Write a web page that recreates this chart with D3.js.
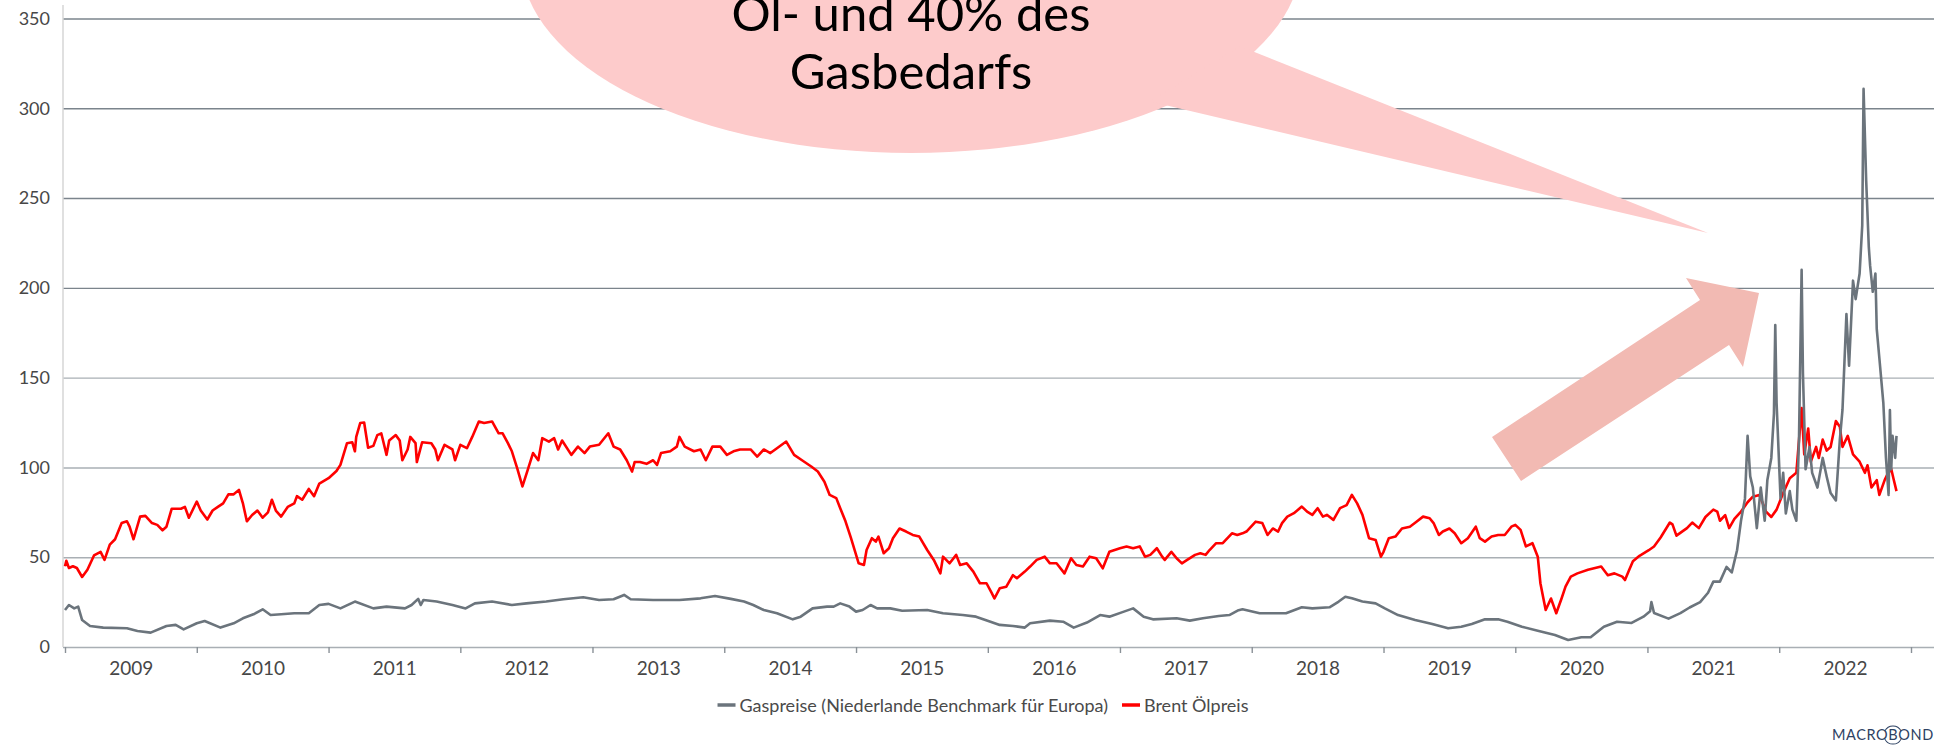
<!DOCTYPE html>
<html lang="de">
<head>
<meta charset="UTF-8">
<title>Gaspreise und Brent Ölpreis</title>
<script src="https://cdn.jsdelivr.net/npm/d3@7"></script>
<style>
  body { margin: 0; background: #fff; }
  svg { display: block; font-family: Lato, "Open Sans", sans-serif; }
  .axis text { fill: #474747; font-size: 18px; font-family: Lato, "Open Sans", sans-serif; }
  .legend text { fill: #4a4a4a; font-size: 18px; }
</style>
</head>
<body>
<svg id="chart" width="1950" height="748"></svg>
<script>
// ---- data ----
const yearLabels = [2009, 2010, 2011, 2012, 2013, 2014, 2015, 2016, 2017, 2018, 2019, 2020, 2021, 2022];
const yTicks = [0, 50, 100, 150, 200, 250, 300, 350];
const legendLabels = ["Gaspreise (Niederlande Benchmark für Europa)", "Brent Ölpreis"];
const bubbleLines = ["Öl- und 40% des", "Gasbedarfs"];

// [decimal year, value]
const gasPreise = [
  [2009.00, 20.6], [2009.03, 23.4], [2009.07, 21.5], [2009.10, 22.5], [2009.13, 15], [2009.19, 11.7],
  [2009.29, 10.8], [2009.47, 10.4], [2009.55, 8.9], [2009.65, 8.0], [2009.77, 11.7], [2009.84, 12.3],
  [2009.90, 9.8], [2010.00, 13.2], [2010.06, 14.5], [2010.18, 10.8], [2010.28, 13.2], [2010.35, 16],
  [2010.43, 18.2], [2010.50, 21], [2010.56, 17.8], [2010.64, 18.2], [2010.74, 18.8], [2010.85, 18.8],
  [2010.93, 23.4], [2011.00, 24], [2011.09, 21.5], [2011.20, 25.3], [2011.34, 21.5], [2011.44, 22.5],
  [2011.58, 21.5], [2011.63, 23.4], [2011.68, 26.8], [2011.70, 23.4], [2011.72, 26.2], [2011.82, 25.3],
  [2011.94, 23.4], [2012.04, 21.5], [2012.11, 24.3], [2012.24, 25.3], [2012.39, 23.4], [2012.50, 24.3],
  [2012.65, 25.3], [2012.78, 26.6], [2012.93, 27.7], [2013.05, 26.2], [2013.16, 26.6], [2013.24, 29],
  [2013.29, 26.6], [2013.46, 26.2], [2013.66, 26.2], [2013.82, 27.1], [2013.93, 28.4], [2014.05, 26.8],
  [2014.15, 25.3], [2014.22, 23.4], [2014.30, 20.6], [2014.40, 18.8], [2014.52, 15.4], [2014.58, 16.9],
  [2014.67, 21.5], [2014.78, 22.5], [2014.83, 22.5], [2014.88, 24.3], [2014.95, 22.5], [2015.00, 19.7],
  [2015.05, 20.6], [2015.11, 23.4], [2015.16, 21.5], [2015.26, 21.5], [2015.35, 20.2], [2015.54, 20.6],
  [2015.66, 18.8], [2015.81, 17.8], [2015.91, 16.9], [2016.02, 14.1], [2016.09, 12.3], [2016.19, 11.7],
  [2016.28, 10.8], [2016.32, 13.2], [2016.47, 14.7], [2016.57, 14.1], [2016.65, 10.8], [2016.75, 13.6],
  [2016.85, 17.8], [2016.92, 16.9], [2017.03, 19.7], [2017.10, 21.5], [2017.18, 16.9], [2017.25, 15.4],
  [2017.43, 16], [2017.53, 14.7], [2017.63, 16], [2017.75, 17.3], [2017.83, 17.8], [2017.90, 20.5],
  [2017.93, 21], [2018.06, 18.8], [2018.16, 18.8], [2018.26, 18.8], [2018.38, 22.1], [2018.46, 21.5],
  [2018.59, 22.1], [2018.66, 25.3], [2018.71, 28], [2018.76, 27.1], [2018.84, 25.3], [2018.94, 24.3],
  [2019.01, 21.5], [2019.11, 17.8], [2019.24, 15], [2019.37, 12.8], [2019.49, 10.4], [2019.59, 11.3],
  [2019.67, 12.8], [2019.77, 15.4], [2019.87, 15.4], [2019.94, 14.1], [2020.05, 11.3], [2020.17, 9.1],
  [2020.30, 6.7], [2020.40, 3.9], [2020.50, 5.4], [2020.57, 5.4], [2020.67, 11.3], [2020.77, 14.1],
  [2020.88, 13.4], [2020.97, 16.9], [2021.02, 19.9], [2021.03, 25], [2021.05, 18.9], [2021.16, 15.8],
  [2021.25, 18.9], [2021.32, 22], [2021.40, 25], [2021.46, 30.2], [2021.50, 36.4], [2021.55, 36.4],
  [2021.60, 44.6], [2021.64, 41.5], [2021.68, 53.9], [2021.71, 70.3], [2021.74, 82.6], [2021.76, 117.6],
  [2021.78, 95], [2021.80, 88.8], [2021.83, 66.2], [2021.86, 88.8], [2021.89, 70.3], [2021.91, 93],
  [2021.94, 105.3], [2021.96, 130], [2021.97, 179.3], [2021.98, 136], [2022.01, 82.6], [2022.03, 97],
  [2022.05, 74.4], [2022.08, 86.8], [2022.10, 76.5], [2022.13, 70.3], [2022.15, 115.5], [2022.17, 210],
  [2022.18, 152.5], [2022.20, 99], [2022.23, 111.4], [2022.25, 97], [2022.29, 88.8], [2022.33, 105.3],
  [2022.36, 95], [2022.39, 85.7], [2022.43, 81.6], [2022.46, 115.5], [2022.48, 132], [2022.51, 185.4],
  [2022.53, 156.7], [2022.56, 204], [2022.58, 193.7], [2022.61, 208], [2022.63, 234.8], [2022.64, 310.8],
  [2022.66, 259.5], [2022.68, 222.5], [2022.69, 212.2], [2022.71, 197.8], [2022.73, 208], [2022.74, 177.2],
  [2022.76, 160.8], [2022.79, 136], [2022.81, 105.3], [2022.83, 84.7], [2022.84, 132], [2022.85, 99],
  [2022.86, 117.6], [2022.88, 105.3], [2022.89, 117.6]
];

const brentOel = [
  [2009.00, 45], [2009.01, 48], [2009.03, 44], [2009.06, 45], [2009.09, 44], [2009.13, 39], [2009.17, 43],
  [2009.22, 51], [2009.27, 53], [2009.30, 48.5], [2009.34, 57], [2009.38, 60], [2009.43, 69], [2009.47, 70],
  [2009.49, 67], [2009.52, 60], [2009.57, 72.6], [2009.61, 73], [2009.66, 69], [2009.70, 68], [2009.74, 65],
  [2009.77, 67], [2009.81, 77], [2009.88, 77], [2009.91, 78], [2009.94, 72], [2010.00, 81], [2010.03, 76],
  [2010.08, 71], [2010.12, 76], [2010.16, 78], [2010.20, 80], [2010.24, 85], [2010.28, 85], [2010.32, 87.5],
  [2010.35, 80], [2010.38, 70], [2010.42, 73.5], [2010.46, 76], [2010.50, 72], [2010.54, 75], [2010.57, 82],
  [2010.60, 76], [2010.64, 72.6], [2010.69, 78], [2010.74, 80], [2010.76, 84], [2010.80, 82], [2010.85, 88],
  [2010.89, 84], [2010.93, 91], [2011.00, 94], [2011.06, 98], [2011.09, 101.4], [2011.14, 113.5],
  [2011.18, 114], [2011.20, 109], [2011.21, 117], [2011.24, 124.7], [2011.27, 125], [2011.30, 111],
  [2011.34, 112], [2011.37, 118], [2011.40, 119], [2011.44, 107], [2011.46, 115], [2011.51, 118],
  [2011.54, 115], [2011.56, 104], [2011.60, 110], [2011.62, 117], [2011.66, 113.5], [2011.67, 103],
  [2011.71, 114], [2011.78, 113.5], [2011.81, 110], [2011.83, 104], [2011.88, 112.6], [2011.94, 110],
  [2011.96, 104], [2012.00, 112.6], [2012.05, 110.7], [2012.09, 117], [2012.14, 125.6], [2012.18, 124.7],
  [2012.24, 125.6], [2012.29, 119], [2012.32, 119], [2012.36, 113.5], [2012.39, 109], [2012.43, 99.6],
  [2012.47, 89.4], [2012.51, 98.6], [2012.55, 108], [2012.59, 104], [2012.62, 116.3], [2012.67, 114.4],
  [2012.71, 116.3], [2012.74, 110], [2012.77, 115], [2012.84, 107], [2012.89, 111.6], [2012.94, 108],
  [2012.98, 111.6], [2013.05, 112.6], [2013.12, 119], [2013.16, 111.6], [2013.21, 110], [2013.26, 104],
  [2013.30, 97.7], [2013.32, 103], [2013.36, 103], [2013.41, 102], [2013.46, 104], [2013.49, 101.4],
  [2013.52, 108], [2013.59, 109], [2013.64, 111.6], [2013.66, 117], [2013.70, 111.6], [2013.77, 109],
  [2013.82, 110], [2013.86, 104], [2013.91, 111.6], [2013.97, 111.6], [2014.02, 107], [2014.07, 109],
  [2014.12, 110], [2014.20, 110], [2014.25, 106], [2014.30, 110], [2014.35, 108], [2014.40, 110.7],
  [2014.47, 114.4], [2014.53, 107], [2014.59, 104], [2014.66, 100.5], [2014.71, 97.7], [2014.76, 92],
  [2014.80, 84.7], [2014.85, 82.9], [2014.88, 77.3], [2014.92, 70], [2014.96, 61], [2015.02, 46.6],
  [2015.06, 45.7], [2015.08, 54], [2015.12, 60.6], [2015.15, 58.7], [2015.17, 61.5], [2015.21, 52.2],
  [2015.25, 55], [2015.28, 60.6], [2015.33, 66], [2015.38, 64.3], [2015.43, 62.4], [2015.48, 61.5],
  [2015.54, 54], [2015.59, 48.5], [2015.64, 41], [2015.66, 50.3], [2015.71, 46.6], [2015.76, 51.3],
  [2015.79, 45.7], [2015.84, 46.6], [2015.89, 42], [2015.94, 35.5], [2015.99, 35.5], [2016.03, 30],
  [2016.05, 27], [2016.09, 32.7], [2016.14, 33.6], [2016.19, 40], [2016.22, 38.3], [2016.28, 42],
  [2016.32, 44.8], [2016.37, 48.5], [2016.43, 50.3], [2016.47, 46.6], [2016.52, 46.6], [2016.58, 41],
  [2016.63, 49.4], [2016.67, 45.7], [2016.72, 44.8], [2016.77, 50.3], [2016.82, 49.4], [2016.87, 43.8],
  [2016.92, 53], [2017.00, 55], [2017.05, 56], [2017.10, 55], [2017.15, 56], [2017.19, 50.3],
  [2017.23, 51.3], [2017.28, 55], [2017.32, 50.3], [2017.34, 48.5], [2017.39, 53], [2017.43, 49.4],
  [2017.47, 46.6], [2017.51, 48.5], [2017.57, 51.3], [2017.61, 52.2], [2017.65, 51.3], [2017.68, 54],
  [2017.73, 57.8], [2017.78, 57.8], [2017.85, 63.3], [2017.89, 62.4], [2017.93, 63.3], [2017.96, 64.3],
  [2018.03, 69.8], [2018.08, 69], [2018.12, 62.4], [2018.16, 66], [2018.20, 64.3], [2018.23, 69],
  [2018.27, 72.6], [2018.32, 74.5], [2018.38, 78.2], [2018.42, 75.4], [2018.46, 73.6], [2018.50, 77.3],
  [2018.54, 72.6], [2018.57, 73.6], [2018.62, 70.8], [2018.67, 77.3], [2018.72, 79], [2018.76, 84.7],
  [2018.80, 80], [2018.84, 73.6], [2018.89, 60.6], [2018.94, 59.6], [2018.98, 50.3], [2019.00, 53],
  [2019.04, 60.6], [2019.09, 61.5], [2019.14, 66], [2019.20, 67], [2019.25, 69.8], [2019.30, 72.6],
  [2019.35, 71.7], [2019.38, 69], [2019.42, 62.4], [2019.45, 64.3], [2019.50, 66], [2019.54, 63.3],
  [2019.59, 57.8], [2019.64, 60.6], [2019.70, 67], [2019.73, 60.6], [2019.77, 58.7], [2019.82, 61.5],
  [2019.87, 62.4], [2019.92, 62.4], [2019.97, 67], [2020.00, 68], [2020.04, 65.2], [2020.08, 56],
  [2020.13, 57.8], [2020.17, 50.3], [2020.19, 35.5], [2020.21, 28], [2020.23, 20.6], [2020.27, 27],
  [2020.31, 18.8], [2020.35, 27], [2020.38, 33.6], [2020.42, 39.2], [2020.47, 41], [2020.55, 43],
  [2020.65, 44.8], [2020.70, 40], [2020.75, 41], [2020.81, 39.2], [2020.83, 37.3], [2020.86, 42.6],
  [2020.89, 47.7], [2020.94, 50.8], [2021.01, 53.9], [2021.05, 56], [2021.10, 61], [2021.17, 69.3],
  [2021.19, 68.3], [2021.22, 62], [2021.26, 64.1], [2021.30, 66.2], [2021.34, 69.3], [2021.39, 66.2],
  [2021.44, 72.4], [2021.50, 76.5], [2021.53, 75.4], [2021.55, 70.3], [2021.59, 73.4], [2021.62, 66.2],
  [2021.66, 71.3], [2021.71, 75.4], [2021.76, 80.6], [2021.80, 83.7], [2021.85, 84.7], [2021.90, 75.4],
  [2021.94, 72.4], [2021.98, 76.5], [2022.03, 85.7], [2022.08, 94], [2022.13, 97], [2022.17, 133],
  [2022.19, 107.3], [2022.22, 121.7], [2022.24, 103.2], [2022.28, 111.4], [2022.30, 105.3], [2022.33, 115.5],
  [2022.36, 109.4], [2022.39, 111.4], [2022.43, 125.8], [2022.46, 122.7], [2022.48, 111.4], [2022.52, 117.6],
  [2022.56, 107.3], [2022.61, 103.2], [2022.65, 97], [2022.67, 101.2], [2022.70, 88.8], [2022.74, 92.9],
  [2022.76, 84.7], [2022.80, 92.9], [2022.82, 96], [2022.85, 99.1], [2022.87, 92.9], [2022.89, 86.8]
];

// ---- layout ----
const svg = d3.select("#chart");
const plotLeft = 63, plotRight = 1934;

// decimal year -> Date
function toDate(t) {
    const yr = Math.floor(t);
    const a = new Date(yr, 0, 1), b = new Date(yr + 1, 0, 1);
    return new Date(+a + (t - yr) * (b - a));
}

const x = d3.scaleTime()
    .domain([new Date(2009, 0, 1), new Date(2023, 0, 1)])
    .range([65, 1911]);

const y = d3.scaleLinear()
    .domain([0, 350])
    .range([647, 18.5]);

// gridlines + y labels
const yAxis = svg.append("g")
    .attr("class", "axis y-axis")
    .attr("transform", `translate(${plotLeft},0)`)
    .call(d3.axisLeft(y).tickValues(yTicks).tickSize(-(plotRight - plotLeft)).tickPadding(13));
yAxis.select(".domain").remove();
yAxis.selectAll(".tick line")
    .attr("stroke", d => d >= 200 ? "#7b848c" : "#a9afb4")
    .attr("stroke-width", 1.4);

// left axis line
svg.append("line")
    .attr("x1", plotLeft).attr("x2", plotLeft)
    .attr("y1", 5).attr("y2", y(0))
    .attr("stroke", "#d6d6d6").attr("stroke-width", 1.5);

// year boundary ticks
const xTicks = svg.append("g")
    .attr("transform", `translate(0,${y(0)})`)
    .call(d3.axisBottom(x).ticks(d3.timeYear.every(1)).tickFormat("").tickSize(6));
xTicks.select(".domain").remove();
xTicks.selectAll(".tick line").attr("stroke", "#8a9197").attr("stroke-width", 1.4);

// year labels centred in each year
const xLabels = svg.append("g")
    .attr("class", "axis x-axis")
    .attr("transform", `translate(0,${y(0)})`)
    .call(d3.axisBottom(x)
        .tickValues(yearLabels.map(yr => new Date(yr, 6, 2)))
        .tickFormat(d3.timeFormat("%Y"))
        .tickSize(0).tickPadding(15));
xLabels.select(".domain").remove();
xLabels.selectAll("text").style("font-size", "19px");

// series
const line = d3.line()
    .x(d => x(toDate(d[0])))
    .y(d => y(d[1]));

svg.append("path")
    .datum(brentOel)
    .attr("d", line)
    .attr("fill", "none")
    .attr("stroke", "#ff0000")
    .attr("stroke-width", 2.6)
    .attr("stroke-linejoin", "round");

svg.append("path")
    .datum(gasPreise)
    .attr("d", line)
    .attr("fill", "none")
    .attr("stroke", "#6b747c")
    .attr("stroke-width", 2.6)
    .attr("stroke-linejoin", "round");

// legend
const legend = svg.append("g").attr("class", "legend");
const legendColors = ["#6b747c", "#ff0000"];
let lx = 0;
const items = [];
legendLabels.forEach((label, i) => {
    const g = legend.append("g");
    g.append("line")
        .attr("x1", 0).attr("x2", 18)
        .attr("y1", 705).attr("y2", 705)
        .attr("stroke", legendColors[i]).attr("stroke-width", 3.5);
    const t = g.append("text").attr("x", 22).attr("y", 712).text(label);
    const w = 22 + t.node().getComputedTextLength();
    items.push({ g, w });
});
const gap = 14;
const totalW = d3.sum(items, d => d.w) + gap * (items.length - 1);
lx = 983 - totalW / 2;
items.forEach(it => {
    it.g.attr("transform", `translate(${lx},0)`);
    lx += it.w + gap;
});

// speech bubble annotation (its top runs off the page, as in the original slide)
const note = svg.append("g");
note.append("ellipse")
    .attr("cx", 911).attr("cy", -40)
    .attr("rx", 390).attr("ry", 193)
    .attr("fill", "#fdcbcb");
note.append("polygon")
    .attr("points", "1150,101.6 1240,46.2 1708,233")
    .attr("fill", "#fdcbcb");
note.selectAll("text.bubble")
    .data(bubbleLines)
    .enter().append("text")
    .attr("class", "bubble")
    .attr("x", 911)
    .attr("y", (d, i) => 31 + i * 57.5)
    .attr("text-anchor", "middle")
    .style("font-size", "49px")
    .style("fill", "#000")
    .text(d => d);

// block arrow
svg.append("polygon")
    .attr("points", "1492,437 1700,300 1686,278 1759,293 1743,367 1729,345 1521,481")
    .attr("fill", "#f2bab3");

// Macrobond mark
const logo = svg.append("text")
    .attr("x", 1832).attr("y", 740)
    .style("font-size", "14.5px")
    .style("letter-spacing", "0.6px")
    .style("fill", "#2e4263")
    .text("MACROBOND");
const oStart = logo.node().getStartPositionOfChar(5);
const oEnd = logo.node().getEndPositionOfChar(5);
const ocx = (oStart.x + oEnd.x) / 2 - 0.3;
const arc = d3.arc().innerRadius(8.6).outerRadius(9.6);
svg.append("path")
    .attr("transform", `translate(${ocx},735)`)
    .attr("d", arc({ startAngle: -1.1, endAngle: 1.1 }))
    .attr("fill", "#2e4263");
svg.append("path")
    .attr("transform", `translate(${ocx},735)`)
    .attr("d", arc({ startAngle: Math.PI - 1.1, endAngle: Math.PI + 1.1 }))
    .attr("fill", "#2e4263");
</script>
</body>
</html>
